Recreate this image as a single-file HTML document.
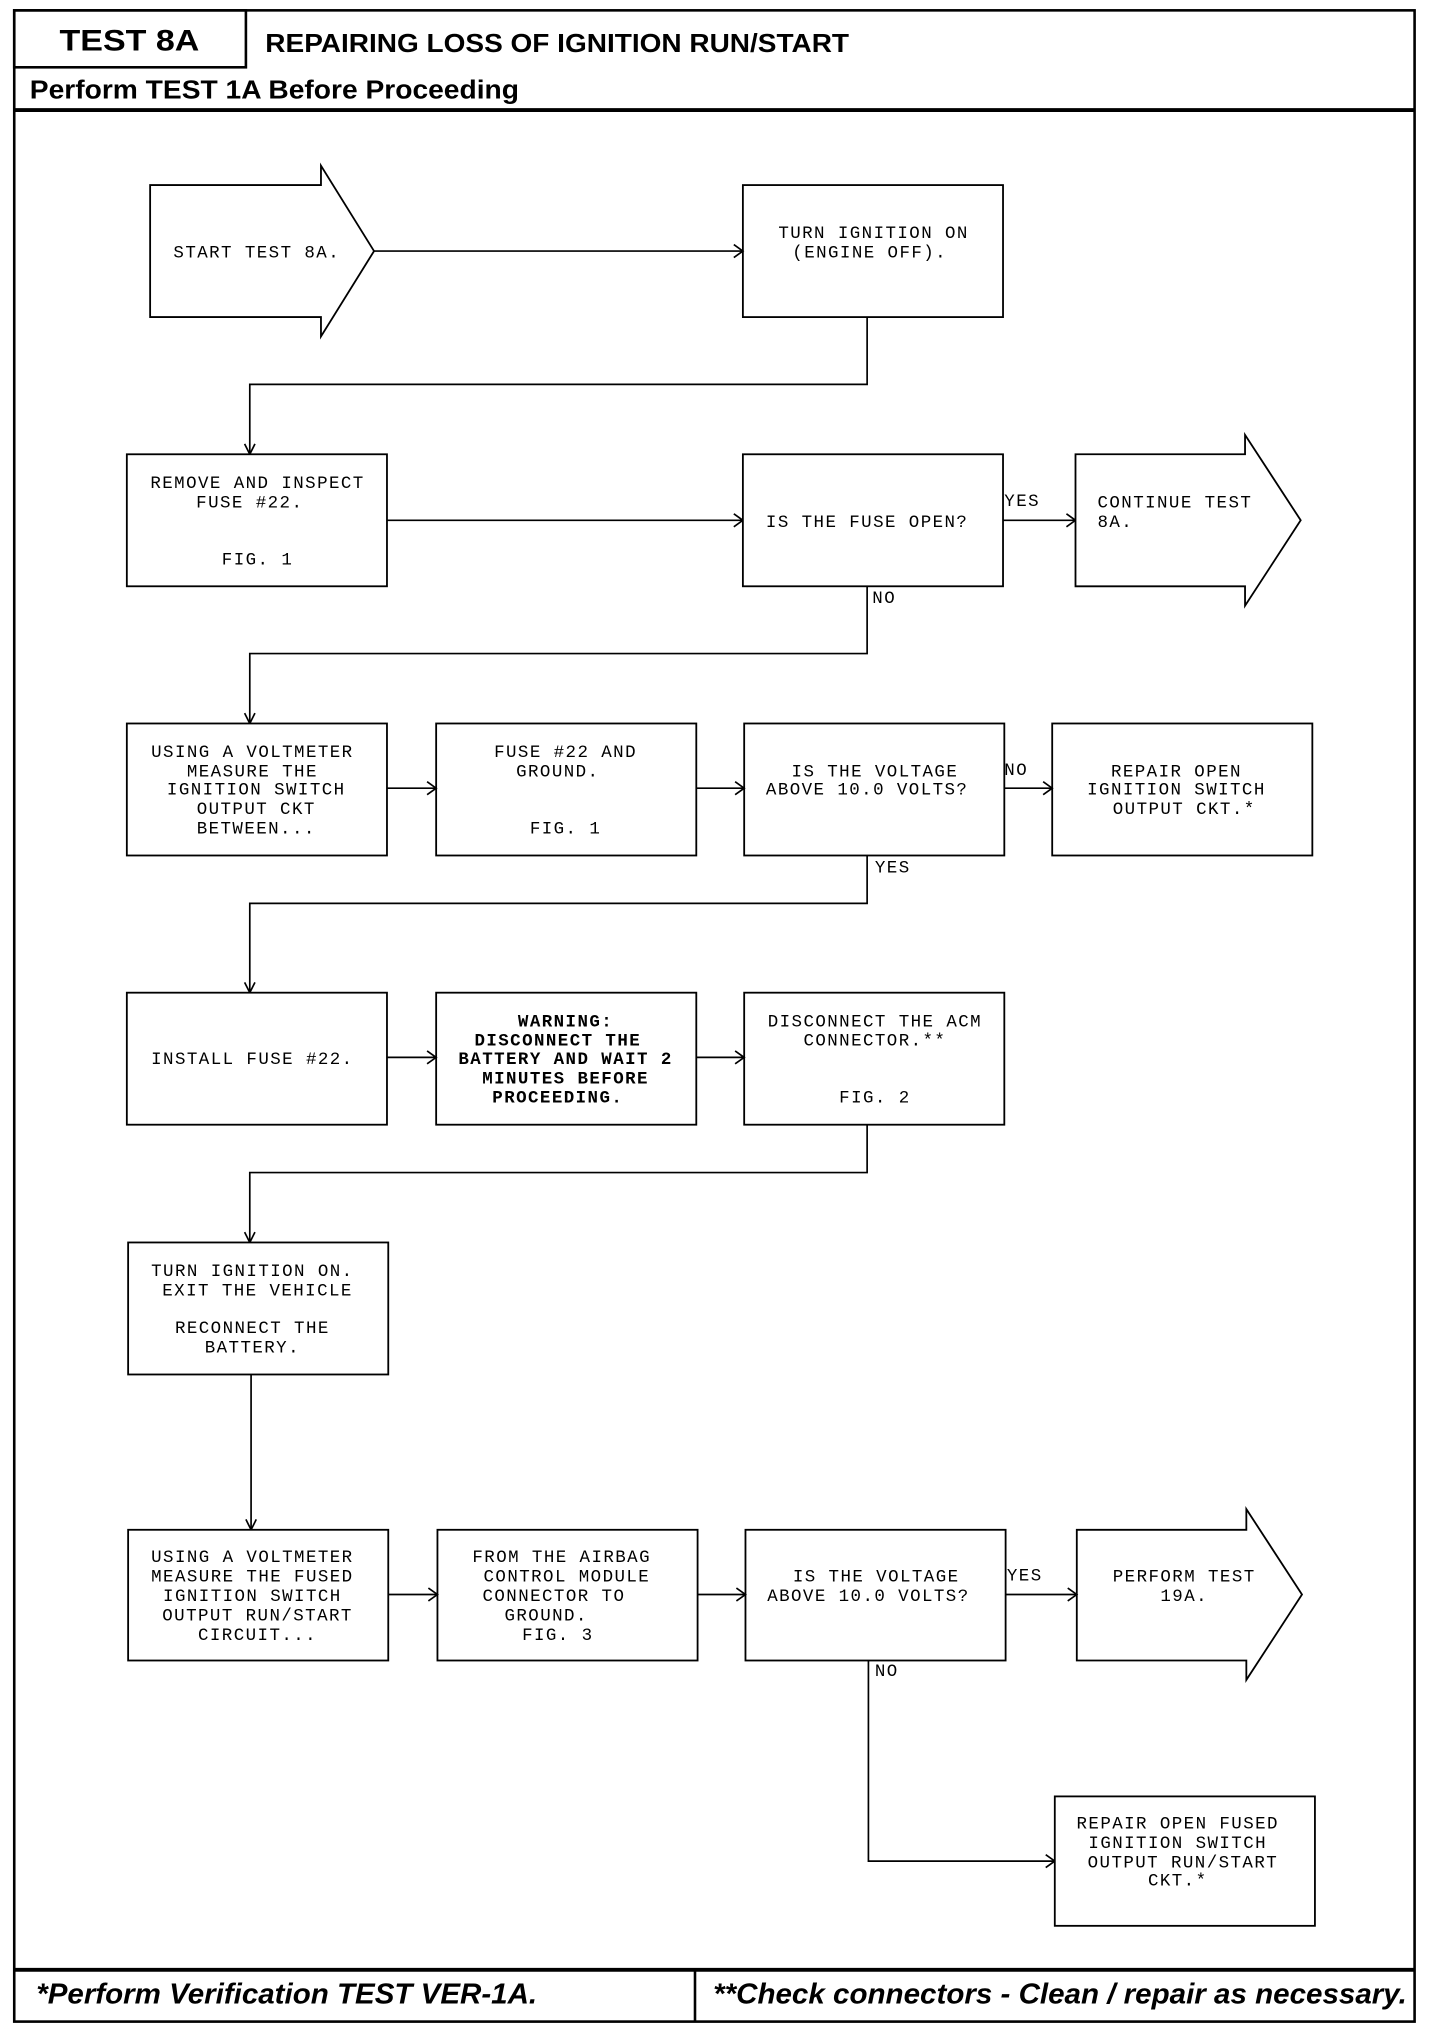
<!DOCTYPE html>
<html><head><meta charset="utf-8"><style>
html,body{margin:0;padding:0;background:#fff;}
svg{display:block;}
.m{font-family:"Liberation Mono",monospace;font-size:13.5px;letter-spacing:1.1px;fill:#000;}
.mc{text-anchor:middle;}
.b{font-weight:bold;}
.h{font-family:"Liberation Sans",sans-serif;font-weight:bold;fill:#000;}
.f{font-family:"Liberation Sans",sans-serif;font-weight:bold;font-style:italic;fill:#000;}
.bx{fill:#fff;stroke:#000;stroke-width:1.4;}
.ln{fill:none;stroke:#000;stroke-width:1.3;}
</style></head><body>
<svg width="1456" height="2026" viewBox="0 0 1125 1565.4" preserveAspectRatio="none" xmlns="http://www.w3.org/2000/svg">
<rect x="0" y="0" width="1125" height="1566" fill="#fff"/>
<!-- frame -->
<rect x="11" y="8" width="1082" height="1554" fill="none" stroke="#000" stroke-width="2"/>
<rect x="11" y="8" width="179" height="44" fill="none" stroke="#000" stroke-width="2"/>
<line x1="11" y1="85" x2="1093" y2="85" stroke="#000" stroke-width="3"/>
<line x1="11" y1="1522" x2="1093" y2="1522" stroke="#000" stroke-width="3"/>
<line x1="537" y1="1522" x2="537" y2="1562" stroke="#000" stroke-width="2"/>
<text class="h" x="100" y="39" font-size="23" text-anchor="middle" textLength="108" lengthAdjust="spacingAndGlyphs">TEST 8A</text>
<text class="h" x="205" y="40" font-size="20" textLength="451" lengthAdjust="spacingAndGlyphs">REPAIRING LOSS OF IGNITION RUN/START</text>
<text class="h" x="23" y="76" font-size="20" textLength="378" lengthAdjust="spacingAndGlyphs">Perform TEST 1A Before Proceeding</text>
<text class="f" x="28" y="1548" font-size="22" textLength="387" lengthAdjust="spacingAndGlyphs">*Perform Verification TEST VER-1A.</text>
<text class="f" x="551" y="1548" font-size="22" textLength="536" lengthAdjust="spacingAndGlyphs">**Check connectors - Clean / repair as necessary.</text>

<!-- row1 -->
<polygon class="bx" points="116,143 248,143 248,128 289,194 248,260 248,245 116,245"/>
<text class="m" x="134" y="199">START TEST 8A.</text>
<rect class="bx" x="574" y="143" width="201" height="102"/>
<text class="m mc" x="675" y="184">TURN IGNITION ON</text>
<text class="m mc" x="672" y="199">(ENGINE OFF).</text>
<line class="ln" x1="289" y1="194" x2="574" y2="194"/><polyline class="ln" points="567,189 574,194 567,199"/>
<polyline class="ln" points="670,245 670,297 193,297 193,351"/><polyline class="ln" points="189,343 193,351 197,343"/>

<!-- row2 -->
<rect class="bx" x="98" y="351" width="201" height="102"/>
<text class="m mc" x="199" y="377">REMOVE AND INSPECT</text>
<text class="m mc" x="193" y="392">FUSE #22.</text>
<text class="m mc" x="199" y="436">FIG. 1</text>
<line class="ln" x1="299" y1="402" x2="574" y2="402"/><polyline class="ln" points="567,397 574,402 567,407"/>
<rect class="bx" x="574" y="351" width="201" height="102"/>
<text class="m mc" x="670" y="407">IS THE FUSE OPEN?</text>
<line class="ln" x1="775" y1="402" x2="831" y2="402"/><polyline class="ln" points="824,397 831,402 824,407"/>
<text class="m" x="776" y="391">YES</text>
<polygon class="bx" points="831,351 962,351 962,336 1005,402 962,468 962,453 831,453"/>
<text class="m" x="848" y="392">CONTINUE TEST</text>
<text class="m" x="848" y="407">8A.</text>
<text class="m" x="674" y="466">NO</text>
<polyline class="ln" points="670,453 670,505 193,505 193,559"/><polyline class="ln" points="189,551 193,559 197,551"/>

<!-- row3 -->
<rect class="bx" x="98" y="559" width="201" height="102"/>
<text class="m mc" x="195" y="585">USING A VOLTMETER</text>
<text class="m mc" x="195" y="600">MEASURE THE</text>
<text class="m mc" x="198" y="614">IGNITION SWITCH</text>
<text class="m mc" x="198" y="629">OUTPUT CKT</text>
<text class="m mc" x="198" y="644">BETWEEN...</text>
<rect class="bx" x="337" y="559" width="201" height="102"/>
<text class="m mc" x="437" y="585">FUSE #22 AND</text>
<text class="m mc" x="431" y="600">GROUND.</text>
<text class="m mc" x="437" y="644">FIG. 1</text>
<rect class="bx" x="575" y="559" width="201" height="102"/>
<text class="m mc" x="676" y="600">IS THE VOLTAGE</text>
<text class="m mc" x="670" y="614">ABOVE 10.0 VOLTS?</text>
<rect class="bx" x="813" y="559" width="201" height="102"/>
<text class="m mc" x="909" y="600">REPAIR OPEN</text>
<text class="m mc" x="909" y="614">IGNITION SWITCH</text>
<text class="m mc" x="915" y="629">OUTPUT CKT.*</text>
<line class="ln" x1="299" y1="609" x2="337" y2="609"/><polyline class="ln" points="330,604 337,609 330,614"/>
<line class="ln" x1="538" y1="609" x2="575" y2="609"/><polyline class="ln" points="568,604 575,609 568,614"/>
<line class="ln" x1="776" y1="609" x2="813" y2="609"/><polyline class="ln" points="806,604 813,609 806,614"/>
<text class="m" x="776" y="599">NO</text>
<text class="m" x="676" y="674">YES</text>
<polyline class="ln" points="670,661 670,698 193,698 193,767"/><polyline class="ln" points="189,759 193,767 197,759"/>

<!-- row4 -->
<rect class="bx" x="98" y="767" width="201" height="102"/>
<text class="m mc" x="195" y="822">INSTALL FUSE #22.</text>
<rect class="bx" x="337" y="767" width="201" height="102" stroke-width="2"/>
<text class="m mc b" x="437" y="793">WARNING:</text>
<text class="m mc b" x="431" y="808">DISCONNECT THE</text>
<text class="m mc b" x="437" y="822">BATTERY AND WAIT 2</text>
<text class="m mc b" x="437" y="837">MINUTES BEFORE</text>
<text class="m mc b" x="431" y="852">PROCEEDING.</text>
<rect class="bx" x="575" y="767" width="201" height="102"/>
<text class="m mc" x="676" y="793">DISCONNECT THE ACM</text>
<text class="m mc" x="676" y="808">CONNECTOR.**</text>
<text class="m mc" x="676" y="852">FIG. 2</text>
<line class="ln" x1="299" y1="817" x2="337" y2="817"/><polyline class="ln" points="330,812 337,817 330,822"/>
<line class="ln" x1="538" y1="817" x2="575" y2="817"/><polyline class="ln" points="568,812 575,817 568,822"/>
<polyline class="ln" points="670,869 670,906 193,906 193,960"/><polyline class="ln" points="189,952 193,960 197,952"/>

<!-- row5 -->
<rect class="bx" x="99" y="960" width="201" height="102"/>
<text class="m mc" x="195" y="986">TURN IGNITION ON.</text>
<text class="m mc" x="199" y="1001">EXIT THE VEHICLE</text>
<text class="m mc" x="195" y="1030">RECONNECT THE</text>
<text class="m mc" x="195" y="1045">BATTERY.</text>
<line class="ln" x1="194" y1="1062" x2="194" y2="1182"/><polyline class="ln" points="190,1174 194,1182 198,1174"/>

<!-- row6 -->
<rect class="bx" x="99" y="1182" width="201" height="101"/>
<text class="m mc" x="195" y="1207">USING A VOLTMETER</text>
<text class="m mc" x="195" y="1222">MEASURE THE FUSED</text>
<text class="m mc" x="195" y="1237">IGNITION SWITCH</text>
<text class="m mc" x="199" y="1252">OUTPUT RUN/START</text>
<text class="m mc" x="199" y="1267">CIRCUIT...</text>
<rect class="bx" x="338" y="1182" width="201" height="101"/>
<text class="m mc" x="434" y="1207">FROM THE AIRBAG</text>
<text class="m mc" x="438" y="1222">CONTROL MODULE</text>
<text class="m mc" x="428" y="1237">CONNECTOR TO</text>
<text class="m mc" x="422" y="1252">GROUND.</text>
<text class="m mc" x="431" y="1267">FIG. 3</text>
<rect class="bx" x="576" y="1182" width="201" height="101"/>
<text class="m mc" x="677" y="1222">IS THE VOLTAGE</text>
<text class="m mc" x="671" y="1237">ABOVE 10.0 VOLTS?</text>
<polygon class="bx" points="832,1182 963,1182 963,1166 1006,1232 963,1298 963,1283 832,1283"/>
<text class="m mc" x="915" y="1222">PERFORM TEST</text>
<text class="m mc" x="915" y="1237">19A.</text>
<line class="ln" x1="300" y1="1232" x2="338" y2="1232"/><polyline class="ln" points="331,1227 338,1232 331,1237"/>
<line class="ln" x1="539" y1="1232" x2="576" y2="1232"/><polyline class="ln" points="569,1227 576,1232 569,1237"/>
<line class="ln" x1="777" y1="1232" x2="832" y2="1232"/><polyline class="ln" points="825,1227 832,1232 825,1237"/>
<text class="m" x="778" y="1221">YES</text>
<text class="m" x="676" y="1295">NO</text>
<polyline class="ln" points="671,1283 671,1438 815,1438"/><polyline class="ln" points="808,1433 815,1438 808,1443"/>
<rect class="bx" x="815" y="1388" width="201" height="100"/>
<text class="m mc" x="910" y="1413">REPAIR OPEN FUSED</text>
<text class="m mc" x="910" y="1428">IGNITION SWITCH</text>
<text class="m mc" x="914" y="1443">OUTPUT RUN/START</text>
<text class="m mc" x="910" y="1457">CKT.*</text>
</svg>
</body></html>
